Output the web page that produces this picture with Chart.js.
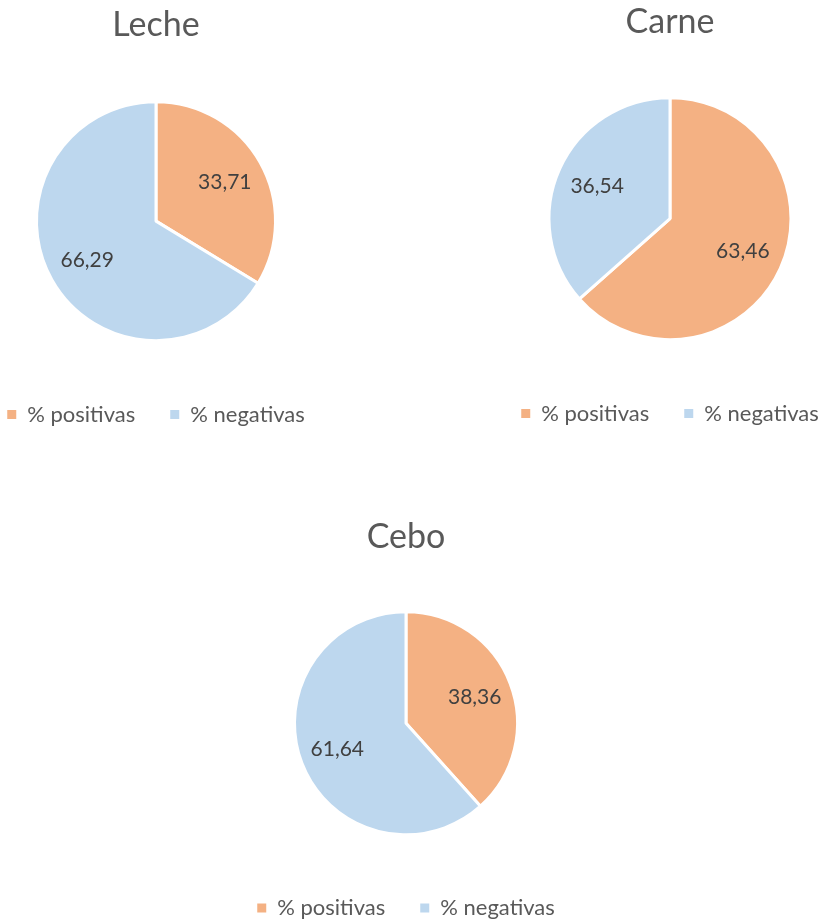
<!DOCTYPE html>
<html>
<head>
<meta charset="utf-8">
<script src="https://cdn.jsdelivr.net/npm/chart.js@4.4.1/dist/chart.umd.min.js"></script>
<style>
  html, body { margin: 0; padding: 0; background: #fff; }
  body { width: 821px; height: 923px; position: relative; overflow: hidden; }
  .box { position: absolute; width: 400px; height: 440px; }
</style>
</head>
<body>
<div class="box" style="left:-44px;top:0"><canvas id="leche"></canvas></div>
<div class="box" style="left:470px;top:0"><canvas id="carne"></canvas></div>
<div class="box" style="left:206px;top:500px"><canvas id="cebo"></canvas></div>
<script>
const labels = ["% positivas", "% negativas"];
const lecheValues = [33.71, 66.29];
const carneValues = [63.46, 36.54];
const ceboValues = [38.36, 61.64];
const colors = ["#F4B183", "#BDD7EE"];

const FONT = "Lato, 'Open Sans', sans-serif";

// draws the value inside each slice, like Excel data labels
const sliceLabels = {
  id: "sliceLabels",
  afterDatasetsDraw(chart) {
    const { ctx } = chart;
    const meta = chart.getDatasetMeta(0);
    const values = chart.data.datasets[0].data;
    ctx.save();
    ctx.font = "21px " + FONT;
    ctx.fillStyle = "#404040";
    ctx.textAlign = "center";
    ctx.textBaseline = "middle";
    meta.data.forEach((arc, i) => {
      const p = arc.getProps(["x", "y", "startAngle", "endAngle", "outerRadius"], true);
      const mid = (p.startAngle + p.endAngle) / 2;
      const r = p.outerRadius * 0.66;
      ctx.fillText(values[i].toFixed(2).replace(".", ","), p.x + Math.cos(mid) * r, p.y + Math.sin(mid) * r);
    });
    ctx.restore();
  },
};

function makePie(id, title, values, radius, titlePad, bottomPad) {
  return new Chart(document.getElementById(id), {
    type: "pie",
    data: {
      labels: labels,
      datasets: [{
        data: values,
        backgroundColor: colors,
        borderColor: "#fff",
        borderWidth: 3,
        radius: radius,
      }],
    },
    options: {
      responsive: true,
      maintainAspectRatio: false,
      animation: false,
      layout: { padding: { bottom: bottomPad } },
      plugins: {
        title: {
          display: true,
          text: title,
          color: "#595959",
          font: { family: FONT, size: 34, weight: "normal" },
          padding: titlePad,
        },
        legend: {
          position: "bottom",
          labels: {
            color: "#595959",
            font: { family: FONT, size: 22 },
            boxWidth: 9,
            boxHeight: 9,
            padding: 35,
            // square swatches without the white slice border
            generateLabels(chart) {
              const items = Chart.overrides.pie.plugins.legend.labels.generateLabels(chart);
              items.forEach((it) => { it.lineWidth = 0; it.strokeStyle = "transparent"; });
              return items;
            },
          },
        },
        tooltip: { enabled: false },
      },
    },
    plugins: [sliceLabels],
  });
}

makePie("leche", "Leche", lecheValues, 119.5, { top: 5, bottom: 28 }, 4.5);
makePie("carne", "Carne", carneValues, 121, { top: 2, bottom: 27 }, 5.5);
makePie("cebo", "Cebo", ceboValues, 111.5, { top: 16.7, bottom: 27 }, 11);
</script>
</body>
</html>
